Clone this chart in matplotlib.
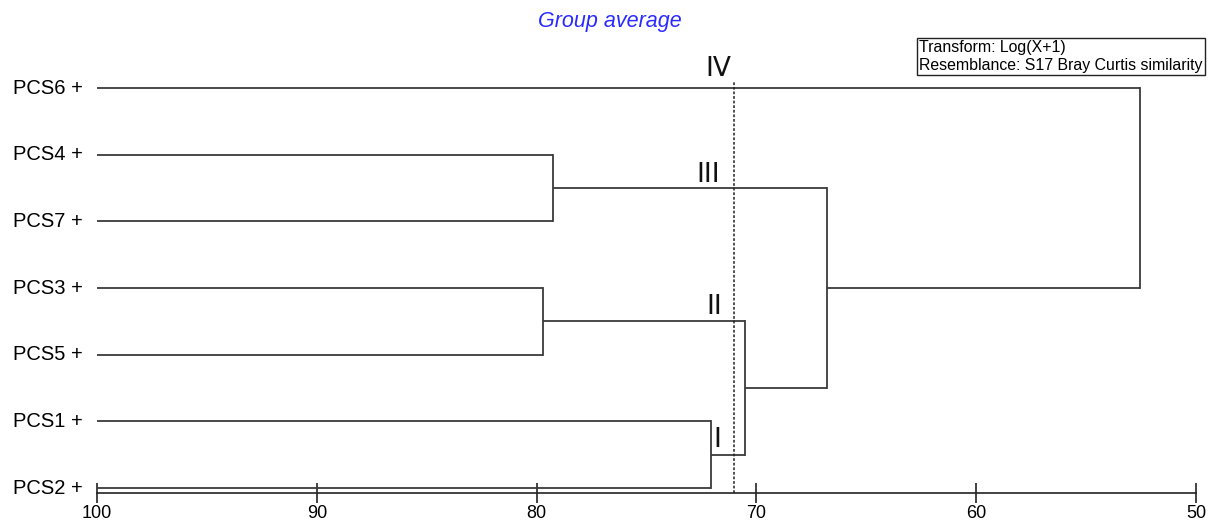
import matplotlib
matplotlib.use("Agg")
import matplotlib.pyplot as plt

# ---- data ----
leaves = ["PCS6", "PCS4", "PCS7", "PCS3", "PCS5", "PCS1", "PCS2"]  # top to bottom
# merges: (child_a, child_b, similarity); ids >= len(leaves) are earlier merges
merge_a = [1, 3, 5, 8, 7, 0]
merge_b = [2, 4, 6, 9, 10, 11]
merge_sim = [79.25, 79.7, 72.05, 70.5, 66.8, 52.55]
cut_level = 71.0
group_labels = ["IV", "III", "II", "I"]
group_label_x = [71.75, 72.2, 71.93, 71.8]
group_label_y = [6.085, 4.505, 2.525, 0.525]
x_ticks = [100, 90, 80, 70, 60, 50]
title = "Group average"
info_lines = ["Transform: Log(X+1)", "Resemblance: S17 Bray Curtis similarity"]

plt.rcParams['font.family'] = ['Liberation Sans', 'DejaVu Sans']

fig = plt.figure(figsize=(12.14, 5.24), dpi=100)
ax = fig.add_axes([97/1214, 31/524, (1196-97)/1214, (493-88)/524])

n = len(leaves)
ypos = {i: float(n - 1 - i) for i in range(n)}
xpos = {i: 100.0 for i in range(n)}
lc = "#3a3a3a"
lw = 1.3
for k, (a, b, s) in enumerate(zip(merge_a, merge_b, merge_sim)):
    nid = n + k
    ax.plot([xpos[a], s], [ypos[a], ypos[a]], color=lc, lw=lw, solid_capstyle='butt', clip_on=False)
    ax.plot([xpos[b], s], [ypos[b], ypos[b]], color=lc, lw=lw, solid_capstyle='butt', clip_on=False)
    ax.plot([s, s], [ypos[a], ypos[b]], color=lc, lw=lw, solid_capstyle='projecting', clip_on=False)
    xpos[nid] = s
    ypos[nid] = (ypos[a] + ypos[b]) / 2

# cut line
ax.plot([cut_level, cut_level], [-0.075, 6.1], color="#222222", lw=1.1,
        linestyle=(0, (1.8, 1.2)), clip_on=False)

for lab, gx, gy in zip(group_labels, group_label_x, group_label_y):
    ax.text(gx, gy, lab, fontsize=19, family='DejaVu Sans', ha='center', va='bottom',
            color='#111111')

ax.set_xlim(100, 50)
ax.set_ylim(-0.075, 6.0)
for sp in ['top', 'right', 'left']:
    ax.spines[sp].set_visible(False)
ax.spines['bottom'].set_color('#222222')
ax.spines['bottom'].set_linewidth(1.2)
ax.set_yticks([])
ax.set_xticks(x_ticks)
ax.set_xticklabels([str(t) for t in x_ticks])
ax.tick_params(axis='x', direction='inout', length=15, width=1.2, color='#222222',
               labelsize=13, pad=1)

for i, name in enumerate(leaves):
    ax.annotate(name + " +", xy=(0, ypos[i]), xycoords=('axes fraction', 'data'),
                xytext=(-14, 0), textcoords='offset pixels', ha='right', va='center',
                fontsize=14.5, annotation_clip=False)

fig.text(610/1214, 1 - 21/524, title, color='#2a2aff', fontsize=15.5, style='italic',
         ha='center', va='center')

fig.text(919/1214, 1 - 56.5/524, "\n".join(info_lines), fontsize=11.4, ha='left', va='center',
         linespacing=1.2,
         bbox=dict(boxstyle='square,pad=0.15', fc='white', ec='#222222', lw=1.0))

fig.savefig("out.png", dpi=100)
